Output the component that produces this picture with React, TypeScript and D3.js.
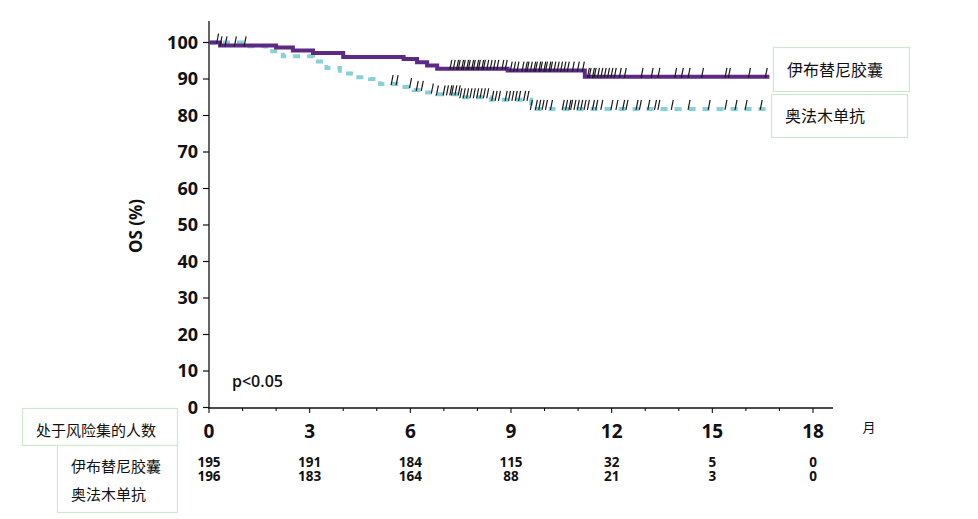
import React from 'react';
import { scaleLinear, line, curveStepAfter, bisectRight, range } from 'd3';

// 伊布替尼胶囊 (purple) - step times in months and OS %
const ibrTimes = [0, 0.33, 2.0, 2.5, 3.1, 4.0, 5.8, 6.2, 6.5, 6.8, 8.9, 11.2];
const ibrSurv = [100, 99.2, 98.6, 97.8, 97.1, 96.0, 95.5, 94.6, 93.7, 92.8, 92.3, 90.6];
const ibrCensor = [
  0.25, 0.35, 0.5, 0.78, 1.07,
  7.2, 7.3, 7.4, 7.45, 7.55, 7.6, 7.7, 7.75, 7.85, 7.9, 8.0, 8.05, 8.15, 8.2, 8.3, 8.4, 8.5, 8.6, 8.75, 8.85,
  9.0, 9.1, 9.2, 9.35, 9.45, 9.5, 9.6, 9.7, 9.75, 9.85, 9.9, 10.0, 10.05, 10.15, 10.2, 10.3, 10.4, 10.5, 10.6, 10.7, 10.85, 11.0, 11.15,
  11.3, 11.35, 11.45, 11.5, 11.6, 11.7, 11.8, 11.9, 12.0, 12.1, 12.25, 12.4, 12.9,
  13.2, 13.4, 13.9, 14.1, 14.3, 14.7, 15.4, 15.5, 16.1, 16.6,
];

// 奥法木单抗 (cyan dashed)
const ofaTimes = [0, 1.1, 1.7, 2.2, 3.1, 3.5, 3.9, 4.3, 4.8, 5.1, 5.7, 6.1, 6.5, 6.8, 7.5, 8.4, 9.6];
const ofaSurv = [100, 99.0, 97.6, 96.2, 94.8, 93.0, 91.5, 90.5, 90.0, 88.6, 87.8, 87.0, 86.3, 85.8, 85.0, 84.3, 81.8];
const ofaCensor = [
  5.45, 5.6, 6.0, 6.2, 6.35, 6.65, 6.8,
  7.0, 7.1, 7.2, 7.25, 7.35, 7.45, 7.5, 7.6, 7.7, 7.8, 7.9, 8.0, 8.1, 8.2, 8.3, 8.45, 8.55, 8.65,
  8.85, 8.95, 9.05, 9.15, 9.25, 9.4, 9.5, 9.6,
  9.75, 9.85, 9.95, 10.05, 10.2,
  10.55, 10.65, 10.75, 10.8, 10.9, 11.0, 11.1, 11.2, 11.3,
  11.45, 11.55, 11.7, 12.0, 12.15, 12.35, 12.45, 12.75, 12.85,
  13.1, 13.3, 13.4, 13.8, 14.3, 14.9, 15.4, 15.7, 16.0, 16.45,
];
const followEnd = 16.7;

const xTicks = [0, 3, 6, 9, 12, 15, 18];
const yTicks = [0, 10, 20, 30, 40, 50, 60, 70, 80, 90, 100];
const riskIbr = ['195', '191', '184', '115', '32', '5', '0'];
const riskOfa = ['196', '183', '164', '88', '21', '3', '0'];
const groupNames = ['伊布替尼胶囊', '奥法木单抗'];

const PURPLE = '#5c2a84';
const CYAN = '#86d0d8';
const BOX = '#cde8cf';
const NUM_FONT = '"Open Sans", "DejaVu Sans", sans-serif';
const CJK_FONT = '"Noto Sans CJK SC", sans-serif';

export default function App() {
  const x = scaleLinear().domain([0, 18]).range([209, 813]);
  const y = scaleLinear().domain([0, 100]).range([407.5, 42.5]);

  const stepLine = line<[number, number]>()
    .x(d => x(d[0]))
    .y(d => y(d[1]))
    .curve(curveStepAfter);

  const pts = (t: number[], s: number[]): [number, number][] => [
    ...t.map((v, i) => [v, s[i]] as [number, number]),
    [followEnd, s[s.length - 1]],
  ];
  const survAt = (t: number[], s: number[], m: number) => s[Math.max(0, bisectRight(t, m) - 1)];

  const censorMarks = (t: number[], s: number[], list: number[], key: string) =>
    list.map((m, i) => {
      const cx = x(m);
      const cy = y(survAt(t, s, m));
      return <line key={key + i} x1={cx - 0.8} y1={cy + 1} x2={cx + 1.2} y2={cy - 9} stroke="#1a1a1a" strokeWidth={1.2} />;
    });

  const minor = range(0, 19);

  return (
    <svg width={978} height={519} style={{ position: 'absolute', left: 0, top: 0, background: '#fff' }}>
      {/* axes */}
      <line x1={209} y1={21} x2={209} y2={408} stroke="#111" strokeWidth={1.3} />
      <line x1={208} y1={408} x2={833} y2={408} stroke="#111" strokeWidth={1.3} />
      {yTicks.map(v => (
        <g key={'y' + v}>
          <line x1={203} x2={209} y1={y(v)} y2={y(v)} stroke="#111" strokeWidth={1.2} />
          <text x={198} y={y(v) + 6} textAnchor="end" fontFamily={NUM_FONT} fontWeight={700} fontSize={18} fill="#111">{v}</text>
        </g>
      ))}
      {minor.map(m => (
        <line key={'xm' + m} x1={x(m)} x2={x(m)} y1={408} y2={m % 3 === 0 ? 413 : 411} stroke="#111" strokeWidth={1.1} />
      ))}
      {xTicks.map(v => (
        <text key={'xl' + v} x={x(v)} y={438} textAnchor="middle" fontFamily={NUM_FONT} fontWeight={700} fontSize={19} fill="#111">{v}</text>
      ))}
      <text x={869} y={432} textAnchor="middle" fontFamily={CJK_FONT} fontSize={13} fill="#111">月</text>

      <text transform="translate(142,226) rotate(-90)" textAnchor="middle" fontFamily={NUM_FONT} fontWeight={700} fontSize={17} fill="#111">OS (%)</text>
      <text x={232} y={387} fontFamily={NUM_FONT} fontWeight={600} fontSize={16} fill="#111">p&lt;0.05</text>

      {/* curves */}
      <path d={stepLine(pts(ofaTimes, ofaSurv)) || ''} fill="none" stroke={CYAN} strokeWidth={4} strokeDasharray="7 7" />
      <path d={stepLine(pts(ibrTimes, ibrSurv)) || ''} fill="none" stroke={PURPLE} strokeWidth={4} />
      {censorMarks(ofaTimes, ofaSurv, ofaCensor, 'co')}
      {censorMarks(ibrTimes, ibrSurv, ibrCensor, 'ci')}

      {/* legend boxes */}
      <rect x={773.5} y={47.5} width={136} height={44} fill="#fff" stroke={BOX} strokeWidth={1.2} />
      <text x={787} y={76} fontFamily={CJK_FONT} fontSize={16} fill="#111">{groupNames[0]}</text>
      <rect x={771.5} y={94.5} width={136} height={43} fill="#fff" stroke={BOX} strokeWidth={1.2} />
      <text x={785} y={122} fontFamily={CJK_FONT} fontSize={16} fill="#111">{groupNames[1]}</text>

      {/* risk table */}
      <rect x={22.5} y={408.5} width={155} height={37} fill="#fff" stroke={BOX} strokeWidth={1.2} />
      <text x={36} y={436} fontFamily={CJK_FONT} fontSize={15} fill="#111">处于风险集的人数</text>
      <rect x={57.5} y={445.5} width={120} height={67} fill="#fff" stroke={BOX} strokeWidth={1.2} />
      <text x={71} y={472} fontFamily={CJK_FONT} fontSize={15} fill="#111">{groupNames[0]}</text>
      <text x={71} y={500} fontFamily={CJK_FONT} fontSize={15} fill="#111">{groupNames[1]}</text>
      {xTicks.map((v, i) => (
        <g key={'r' + v}>
          <text x={x(v)} y={466.5} textAnchor="middle" fontFamily={NUM_FONT} fontWeight={700} fontSize={13.5} fill="#111">{riskIbr[i]}</text>
          <text x={x(v)} y={481} textAnchor="middle" fontFamily={NUM_FONT} fontWeight={700} fontSize={13.5} fill="#111">{riskOfa[i]}</text>
        </g>
      ))}
    </svg>
  );
}
